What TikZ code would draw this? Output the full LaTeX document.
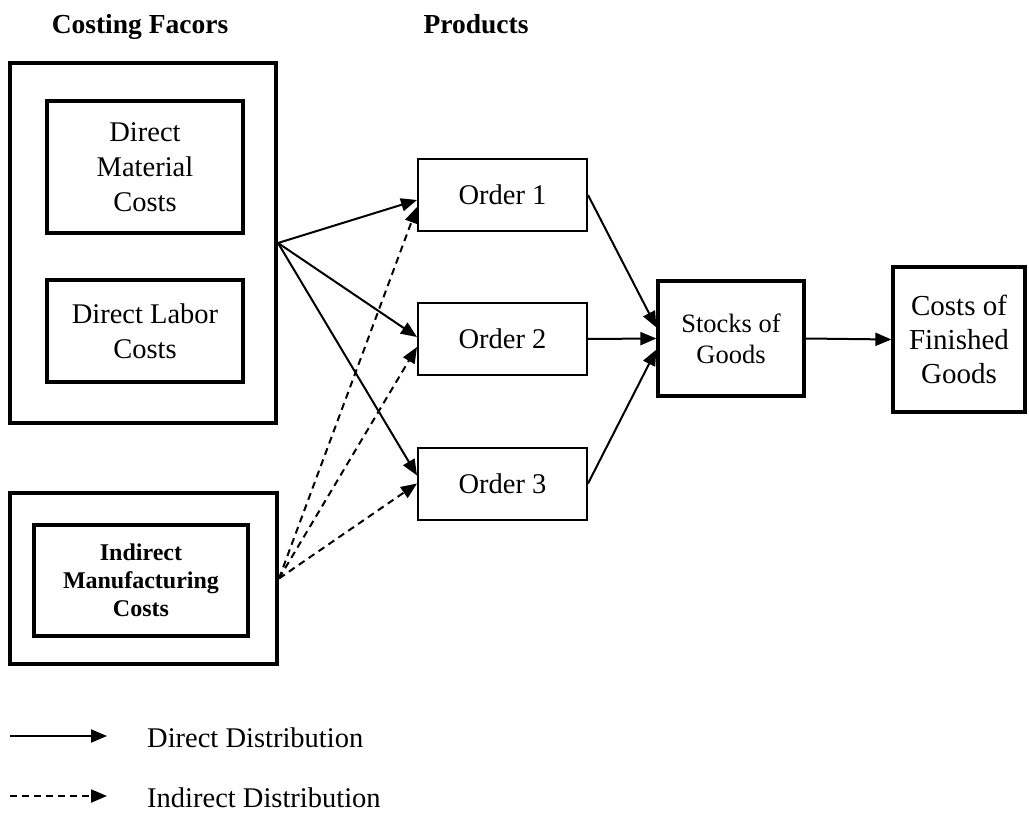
\documentclass[tikz,border=0pt]{standalone}
\usepackage{fontspec}
\setmainfont{Liberation Serif}
\usetikzlibrary{arrows.meta}

\begin{document}
\begin{tikzpicture}[x=1pt,y=-1pt,
  box/.style={draw, rectangle, inner sep=0pt, align=center,
    font=\fontsize{28.5}{35}\selectfont},
  frame/.style={box, line width=4pt},
  costbox/.style={box, line width=3.2pt},
  orderbox/.style={box, line width=2pt, minimum width=169pt, minimum height=72pt},
  flow/.style={line width=2pt, -{Triangle[length=16pt,width=13pt]}},
  indirect/.style={flow, dash pattern=on 7pt off 5pt},
  head/.style={font=\fontsize{27.5}{33}\selectfont\bfseries, anchor=base, inner sep=0pt},
  legendtext/.style={font=\fontsize{28.5}{35}\selectfont, anchor=west, inner sep=0pt},
]
\useasboundingbox (0,0) rectangle (1029,821);

% column headings
\node[head] (hcost) at (140,34) {Costing Facors};
\node[head] (hprod) at (476,34) {Products};

% costing factors
\node[frame, minimum width=266pt, minimum height=360pt] (direct) at (143,243) {};
\node[costbox, minimum width=196pt, minimum height=132pt] (dm) at (145,167)
  {Direct\\Material\\Costs};
\node[costbox, minimum width=196pt, minimum height=102pt] (dl) at (145,331)
  {Direct Labor\\Costs};
\node[frame, minimum width=267pt, minimum height=171pt] (indir) at (143.5,578.5) {};
\node[costbox, minimum width=214pt, minimum height=111pt,
  font=\fontsize{24}{28}\selectfont\bfseries] (imc) at (141,580.5)
  {Indirect\\Manufacturing\\Costs};

% products
\node[orderbox] (o1) at (502.5,195) {Order 1};
\node[orderbox] (o2) at (502.5,339) {Order 2};
\node[orderbox] (o3) at (502.5,483.5) {Order 3};

% stock and finished goods
\node[costbox, minimum width=146pt, minimum height=115pt,
  font=\fontsize{26.5}{31}\selectfont] (stock) at (731,338.5) {Stocks of\\Goods};
\node[costbox, minimum width=132pt, minimum height=145pt,
  font=\fontsize{29}{34}\selectfont] (cfg) at (959,339.5) {Costs of\\Finished\\Goods};

% direct distribution
\draw[flow] (direct.east) -- ([yshift=-5pt]o1.west);
\draw[flow] (direct.east) -- ([yshift=2pt]o2.west);
\draw[flow] (direct.east) -- ([yshift=8pt]o3.west);

% indirect distribution
\draw[indirect] (indir.east) -- ([yshift=-12pt]o1.west);
\draw[indirect] (indir.east) -- ([yshift=-8pt]o2.west);
\draw[indirect] (indir.east) -- (o3.west);

% orders into stock
\draw[flow] (o1.east) -- ([yshift=11pt]stock.west);
\draw[flow] (o2.east) -- (stock.west);
\draw[flow] (o3.east) -- ([yshift=-11pt]stock.west);
\draw[flow] (stock.east) -- (cfg.west);

% legend
\coordinate (ls1) at (10,736);
\coordinate (le1) at (107,736);
\coordinate (ls2) at (10,796);
\coordinate (le2) at (107,796);
\draw[flow] (ls1) -- (le1);
\draw[indirect] (ls2) -- (le2);
\node[legendtext] (lt1) at (147,738) {Direct Distribution};
\node[legendtext] (lt2) at (147,798) {Indirect Distribution};
\end{tikzpicture}
\end{document}
